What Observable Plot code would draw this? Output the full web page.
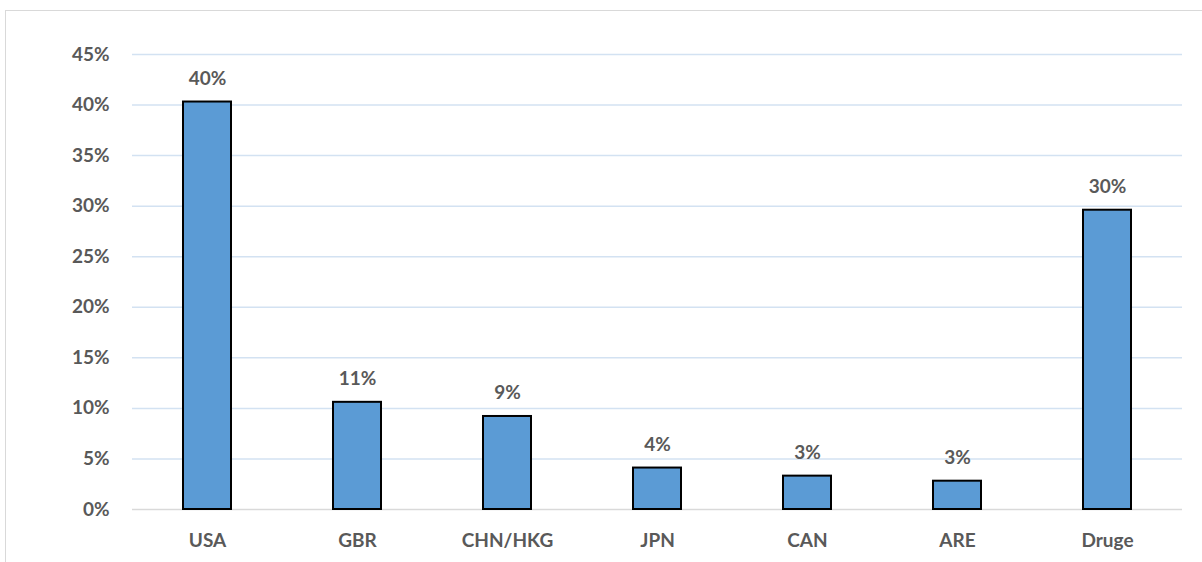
<!DOCTYPE html>
<html>
<head>
<meta charset="utf-8">
<script src="https://cdn.jsdelivr.net/npm/d3@7"></script>
<script src="https://cdn.jsdelivr.net/npm/@observablehq/plot@0.6"></script>
<style>
  html, body { margin: 0; padding: 0; background: #fff; width: 1202px; height: 562px; overflow: hidden; }
  #frame { position: absolute; left: 5px; top: 10px; width: 1300px; height: 700px; border: 1.5px solid #d9d9d9; box-sizing: border-box; }
  #chart { position: absolute; left: 0; top: 0; }
  svg text { font-family: Lato, "Open Sans", sans-serif; }
</style>
</head>
<body>
<div id="frame"></div>
<div id="chart"></div>
<script>
const categories = ["USA", "GBR", "CHN/HKG", "JPN", "CAN", "ARE", "Druge"];
const shares = [0.403, 0.106, 0.092, 0.041, 0.033, 0.028, 0.296];
const yTicks = [0, 0.05, 0.10, 0.15, 0.20, 0.25, 0.30, 0.35, 0.40, 0.45];

const data = categories.map((c, i) => ({category: c, share: shares[i]}));
const pct = d3.format(".0%");

const chart = Plot.plot({
  width: 1202,
  height: 562,
  marginLeft: 132,
  marginRight: 20,
  marginTop: 54,
  marginBottom: 53,
  style: {fontFamily: "Lato, 'Open Sans', sans-serif", fontSize: "19px", fontWeight: "bold", color: "#595959", background: "transparent"},
  x: {domain: categories, paddingInner: 0.68, paddingOuter: 0.34, label: null, tickSize: 0, tickPadding: 24},
  y: {domain: [0, 0.45], ticks: yTicks, tickFormat: pct, label: null, tickSize: 0, tickPadding: 23},
  marks: [
    Plot.ruleY(yTicks.filter(t => t > 0), {stroke: "#d3e2f2", strokeWidth: 1.5}),
    Plot.ruleY([0], {stroke: "#d9d9d9", strokeWidth: 1.5}),
    Plot.barY(data, {x: "category", y: "share", fill: "#5b9bd5", stroke: "#000", strokeWidth: 2}),
    Plot.text(data, {x: "category", y: "share", text: d => pct(d.share), lineAnchor: "bottom", dy: -17, fill: "#595959", fontSize: 19, fontWeight: "bold"})
  ]
});
document.getElementById("chart").appendChild(chart);
</script>
</body>
</html>
